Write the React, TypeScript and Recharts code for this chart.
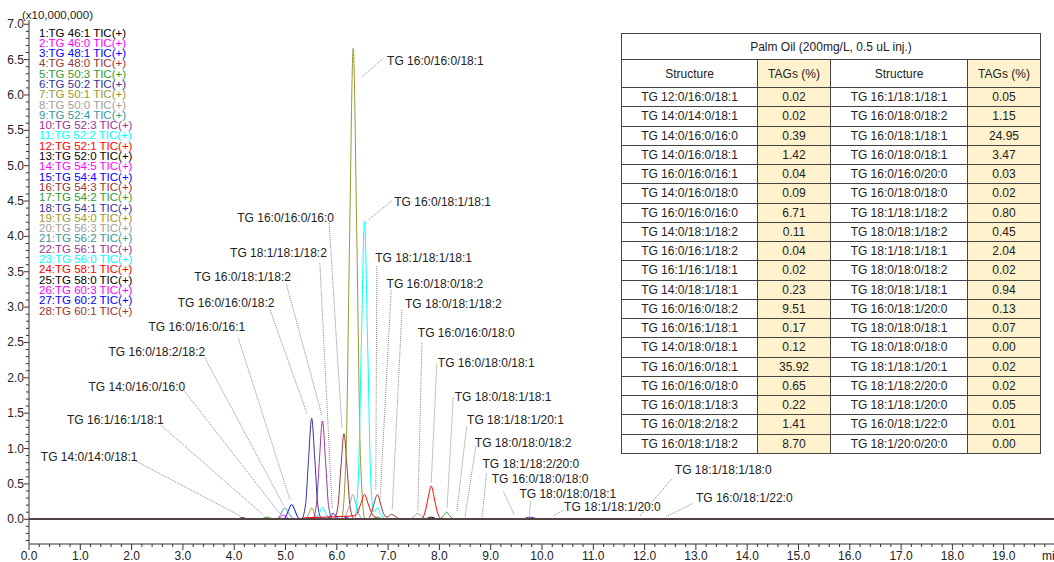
import React from 'react';
import { LineChart, Line, XAxis, YAxis, Legend, ReferenceLine, ReferenceDot } from 'recharts';

const FONT = '"Liberation Sans", Arial, Helvetica, sans-serif';

// series names (legend) and the palette the instrument software cycles through
const seriesNames = [
  'TG 46:1', 'TG 46:0', 'TG 48:1', 'TG 48:0', 'TG 50:3', 'TG 50:2', 'TG 50:1',
  'TG 50:0', 'TG 52:4', 'TG 52:3', 'TG 52:2', 'TG 52:1', 'TG 52:0', 'TG 54:5',
  'TG 54:4', 'TG 54:3', 'TG 54:2', 'TG 54:1', 'TG 54:0', 'TG 56:3', 'TG 56:2',
  'TG 56:1', 'TG 56:0', 'TG 58:1', 'TG 58:0', 'TG 60:3', 'TG 60:2', 'TG 60:1',
];
const palette = [
  '#000000', '#ff00ff', '#0000ff', '#993333', '#339933', '#333399',
  '#999933', '#a0a0a0', '#339999', '#993399', '#00ffff', '#ff0000',
];

// [retention time (min), intensity (x10,000,000)]
const trace01 = [[0, 0], [4.02, 0], [4.1, 0.012], [4.16, 0.022], [4.22, 0.012], [4.3, 0], [20, 0]];
const trace02 = [[0, 0], [4.82, 0], [4.9, 0.03], [4.96, 0.06], [5.02, 0.03], [5.1, 0], [20, 0]];
const trace03 = [[0, 0], [4.94, 0], [5.0, 0.03], [5.06, 0.13], [5.12, 0.21], [5.18, 0.13], [5.24, 0.03], [5.32, 0], [20, 0]];
const trace04 = [[0, 0], [5.94, 0], [6.02, 0.17], [6.08, 0.73], [6.14, 1.21], [6.2, 0.73], [6.26, 0.17], [6.34, 0], [20, 0]];
const trace05 = [[0, 0], [4.5, 0], [4.58, 0.018], [4.64, 0.03], [4.7, 0.018], [4.78, 0], [20, 0]];
const trace06 = [[0, 0], [5.31, 0], [5.39, 0.2], [5.45, 0.86], [5.51, 1.43], [5.57, 0.86], [5.63, 0.2], [5.71, 0], [20, 0]];
const trace07 = [[0, 0], [5.38, 0], [5.45, 0.07], [5.51, 0.16], [5.57, 0.07], [5.64, 0], [6.09, 0], [6.18, 0.9], [6.25, 4.0], [6.32, 6.66], [6.39, 4.0], [6.46, 0.9], [6.55, 0], [20, 0]];
const trace08 = [[0, 0], [6.12, 0], [6.2, 0.1], [6.26, 0.22], [6.31, 0.35], [6.37, 0.22], [6.43, 0.08], [6.5, 0], [7.42, 0], [7.5, 0.04], [7.58, 0.08], [7.66, 0.04], [7.74, 0], [20, 0]];
const trace09 = [[0, 0], [4.82, 0], [4.89, 0.05], [4.94, 0.12], [4.99, 0.16], [5.05, 0.1], [5.12, 0.03], [5.2, 0], [20, 0]];
const trace10 = [[0, 0], [5.52, 0], [5.6, 0.19], [5.66, 0.83], [5.72, 1.39], [5.78, 0.83], [5.84, 0.19], [5.92, 0], [20, 0]];
const trace11 = [[0, 0], [5.57, 0], [5.65, 0.07], [5.72, 0.17], [5.79, 0.07], [5.87, 0], [6.34, 0], [6.42, 0.59], [6.48, 2.52], [6.54, 4.21], [6.6, 2.52], [6.66, 0.6], [6.72, 0.1], [6.79, 0.16], [6.86, 0.07], [6.95, 0], [20, 0]];
const trace12 = [[0, 0], [5.1, 0], [5.4, 0.02], [5.8, 0.03], [6.1, 0.04], [6.36, 0.05], [6.46, 0.2], [6.54, 0.35], [6.62, 0.2], [6.72, 0.04], [6.9, 0], [7.64, 0], [7.72, 0.1], [7.78, 0.3], [7.84, 0.47], [7.9, 0.3], [7.96, 0.1], [8.05, 0], [20, 0]];
const trace13 = [[0, 0], [7.7, 0], [7.84, 0.03], [7.98, 0], [9.3, 0], [9.41, 0.012], [9.52, 0], [20, 0]];
const trace14 = [[0, 0], [20, 0]];
const trace15 = [[0, 0], [5.8, 0], [5.87, 0.04], [5.93, 0.08], [5.99, 0.04], [6.06, 0], [6.12, 0], [6.19, 0.03], [6.26, 0], [20, 0]];
const trace16 = [[0, 0], [6.6, 0], [6.67, 0.08], [6.73, 0.23], [6.79, 0.35], [6.85, 0.23], [6.91, 0.08], [6.98, 0.03], [7.07, 0.07], [7.16, 0.03], [7.26, 0], [20, 0]];
const trace17 = [[0, 0], [6.68, 0], [6.79, 0.03], [6.9, 0], [8.0, 0], [8.08, 0.05], [8.14, 0.1], [8.2, 0.05], [8.29, 0], [20, 0]];
const trace18 = [[0, 0], [9.6, 0], [9.7, 0.02], [9.77, 0.03], [9.84, 0.02], [9.94, 0], [20, 0]];
const trace19 = [[0, 0], [20, 0]];
const trace20 = [[0, 0], [8.4, 0], [8.5, 0.015], [8.6, 0], [20, 0]];
const trace21 = [[0, 0], [8.72, 0], [8.82, 0.012], [8.92, 0], [20, 0]];
const trace22 = [[0, 0], [10.1, 0], [10.2, 0.01], [10.3, 0], [20, 0]];
const trace23 = [[0, 0], [20, 0]];
const trace24 = [[0, 0], [12.3, 0], [12.43, 0.008], [12.55, 0], [20, 0]];
const trace25 = [[0, 0], [20, 0]];
const trace26 = [[0, 0], [20, 0]];
const trace27 = [[0, 0], [20, 0]];
const trace28 = [[0, 0], [11.8, 0], [11.9, 0.008], [12.0, 0], [20, 0]];

const traces = [
  trace01, trace02, trace03, trace04, trace05, trace06, trace07, trace08, trace09, trace10,
  trace11, trace12, trace13, trace14, trace15, trace16, trace17, trace18, trace19, trace20,
  trace21, trace22, trace23, trace24, trace25, trace26, trace27, trace28,
].map((pts) => pts.map(([t, v]) => ({ t, v })));

// table contents
const leftStructures = [
  'TG 12:0/16:0/18:1', 'TG 14:0/14:0/18:1', 'TG 14:0/16:0/16:0', 'TG 14:0/16:0/18:1',
  'TG 16:0/16:0/16:1', 'TG 14:0/16:0/18:0', 'TG 16:0/16:0/16:0', 'TG 14:0/18:1/18:2',
  'TG 16:0/16:1/18:2', 'TG 16:1/16:1/18:1', 'TG 14:0/18:1/18:1', 'TG 16:0/16:0/18:2',
  'TG 16:0/16:1/18:1', 'TG 14:0/18:0/18:1', 'TG 16:0/16:0/18:1', 'TG 16:0/16:0/18:0',
  'TG 16:0/18:1/18:3', 'TG 16:0/18:2/18:2', 'TG 16:0/18:1/18:2',
];
const leftPct = [0.02, 0.02, 0.39, 1.42, 0.04, 0.09, 6.71, 0.11, 0.04, 0.02, 0.23, 9.51, 0.17, 0.12, 35.92, 0.65, 0.22, 1.41, 8.7];
const rightStructures = [
  'TG 16:1/18:1/18:1', 'TG 16:0/18:0/18:2', 'TG 16:0/18:1/18:1', 'TG 16:0/18:0/18:1',
  'TG 16:0/16:0/20:0', 'TG 16:0/18:0/18:0', 'TG 18:1/18:1/18:2', 'TG 18:0/18:1/18:2',
  'TG 18:1/18:1/18:1', 'TG 18:0/18:0/18:2', 'TG 18:0/18:1/18:1', 'TG 16:0/18:1/20:0',
  'TG 18:0/18:0/18:1', 'TG 18:0/18:0/18:0', 'TG 18:1/18:1/20:1', 'TG 18:1/18:2/20:0',
  'TG 18:1/18:1/20:0', 'TG 16:0/18:1/22:0', 'TG 18:1/20:0/20:0',
];
const rightPct = [0.05, 1.15, 24.95, 3.47, 0.03, 0.02, 0.8, 0.45, 2.04, 0.02, 0.94, 0.13, 0.07, 0.0, 0.02, 0.02, 0.05, 0.01, 0.0];

// peak labels: text anchor, leader start and end, in chart units
const annotations = [
  { text: 'TG 16:0/16:0/18:1', at: [6.98, 6.48], from: [6.91, 6.52], to: [6.47, 6.24] },
  { text: 'TG 16:0/18:1/18:1', at: [7.12, 4.49], from: [7.07, 4.5], to: [6.61, 4.23] },
  { text: 'TG 16:0/16:0/16:0', at: [4.06, 4.26], from: [5.85, 4.19], to: [6.1, 1.29] },
  { text: 'TG 18:1/18:1/18:2', at: [3.92, 3.77], from: [5.67, 3.62], to: [5.91, 0.16] },
  { text: 'TG 16:0/18:1/18:2', at: [3.22, 3.43], from: [5.02, 3.32], to: [5.71, 1.47] },
  { text: 'TG 16:0/16:0/18:2', at: [2.9, 3.06], from: [4.7, 2.96], to: [5.42, 1.49] },
  { text: 'TG 16:0/16:0/16:1', at: [2.33, 2.72], from: [4.08, 2.56], to: [5.09, 0.27] },
  { text: 'TG 16:0/18:2/18:2', at: [1.55, 2.36], from: [3.43, 2.28], to: [4.96, 0.2] },
  { text: 'TG 14:0/16:0/16:0', at: [1.16, 1.87], from: [3.0, 1.84], to: [4.89, 0.08] },
  { text: 'TG 16:1/16:1/18:1', at: [0.74, 1.41], from: [2.57, 1.33], to: [4.57, 0.06] },
  { text: 'TG 14:0/14:0/18:1', at: [0.23, 0.88], from: [2.09, 0.82], to: [4.11, 0.05] },
  { text: 'TG 18:1/18:1/18:1', at: [6.75, 3.7], from: [6.78, 3.58], to: [6.76, 0.41] },
  { text: 'TG 16:0/18:0/18:2', at: [6.97, 3.33], from: [7.06, 3.24], to: [6.84, 0.23] },
  { text: 'TG 18:0/18:1/18:2', at: [7.33, 3.04], from: [7.27, 2.96], to: [7.08, 0.13] },
  { text: 'TG 16:0/16:0/18:0', at: [7.58, 2.64], from: [7.66, 2.49], to: [7.58, 0.13] },
  { text: 'TG 16:0/18:0/18:1', at: [7.97, 2.21], from: [7.95, 2.2], to: [7.84, 0.51] },
  { text: 'TG 18:0/18:1/18:1', at: [8.3, 1.73], from: [8.27, 1.72], to: [8.15, 0.16] },
  { text: 'TG 18:1/18:1/20:1', at: [8.54, 1.4], from: [8.53, 1.31], to: [8.34, 0.11] },
  { text: 'TG 18:0/18:0/18:2', at: [8.69, 1.08], from: [8.71, 1.03], to: [8.5, 0.04] },
  { text: 'TG 18:1/18:2/20:0', at: [8.84, 0.78], from: [8.92, 0.65], to: [8.83, 0.02] },
  { text: 'TG 16:0/18:0/18:0', at: [9.02, 0.57], from: [9.25, 0.39], to: [9.46, 0.06] },
  { text: 'TG 18:0/18:0/18:1', at: [9.56, 0.35], from: [9.78, 0.25], to: [9.75, 0.05] },
  { text: 'TG 18:1/18:1/20:0', at: [10.43, 0.18], from: [10.42, 0.13], to: [10.22, 0.05] },
  { text: 'TG 18:1/18:1/18:0', at: [12.59, 0.7], from: [12.53, 0.57], to: [11.9, 0.04] },
  { text: 'TG 16:0/18:1/22:0', at: [13.0, 0.3], from: [12.93, 0.22], to: [12.43, 0.04] },
];

const xTicks = Array.from({ length: 101 }, (_, i) => i / 5);
const yTicks = Array.from({ length: 74 }, (_, i) => (i - 3) / 10);

function XTick(props: any) {
  const { x, y, payload } = props;
  const v = payload.value;
  const major = Math.round(v * 5) % 5 === 0;
  const isUnit = v === 20;
  return (
    <g>
      <line x1={x} x2={x} y1={y} y2={y + (major ? 6 : 3)} stroke="#333" />
      {major && (
        <text
          x={isUnit ? x - 13 : x}
          y={y + 16}
          textAnchor={isUnit ? 'start' : 'middle'}
          fontSize={12}
          fill="#222"
          fontFamily={FONT}
        >
          {isUnit ? 'min' : v.toFixed(1)}
        </text>
      )}
    </g>
  );
}

function YTick(props: any) {
  const { x, y, payload } = props;
  const v = payload.value;
  const major = Math.round(v * 10) % 5 === 0;
  return (
    <g>
      <line x1={x - (major ? 5 : 3)} x2={x} y1={y} y2={y} stroke="#333" />
      {major && (
        <text x={x - 5} y={y + 4} textAnchor="end" fontSize={12} fill="#222" fontFamily={FONT}>
          {v.toFixed(1)}
        </text>
      )}
    </g>
  );
}

function LegendList({ payload }: any) {
  const items = [...(payload || [])].sort((a: any, b: any) => parseInt(a.value, 10) - parseInt(b.value, 10));
  return (
    <div style={{ fontFamily: FONT, fontSize: 11.5 }}>
      {items.map((p: any) => (
        <div key={p.value} style={{ color: p.color, lineHeight: '10.3px', whiteSpace: 'nowrap' }}>
          {p.value}
        </div>
      ))}
    </div>
  );
}

const cellBase: React.CSSProperties = {
  boxSizing: 'border-box',
  borderRight: '1px solid #444',
  borderBottom: '1px solid #444',
  display: 'flex',
  alignItems: 'center',
  justifyContent: 'center',
  fontSize: 12,
  color: '#222',
  whiteSpace: 'nowrap',
};
const pctBg = '#fff2cc';

function TagTable() {
  const cells: React.ReactNode[] = [];
  leftStructures.forEach((s, i) => {
    cells.push(<div key={'a' + i} style={cellBase}>{s}</div>);
    cells.push(<div key={'b' + i} style={{ ...cellBase, background: pctBg }}>{leftPct[i].toFixed(2)}</div>);
    cells.push(<div key={'c' + i} style={cellBase}>{rightStructures[i]}</div>);
    cells.push(<div key={'d' + i} style={{ ...cellBase, background: pctBg }}>{rightPct[i].toFixed(2)}</div>);
  });
  return (
    <div
      style={{
        position: 'absolute',
        left: 621,
        top: 33,
        display: 'grid',
        gridTemplateColumns: '136px 73px 137px 73px',
        gridTemplateRows: '26px 28px repeat(19, 19.25px)',
        borderTop: '1px solid #444',
        borderLeft: '1px solid #444',
        background: '#fff',
        fontFamily: FONT,
      }}
    >
      <div style={{ ...cellBase, gridColumn: '1 / 5' }}>Palm Oil (200mg/L, 0.5 uL inj.)</div>
      <div style={cellBase}>Structure</div>
      <div style={{ ...cellBase, background: pctBg }}>TAGs (%)</div>
      <div style={cellBase}>Structure</div>
      <div style={{ ...cellBase, background: pctBg }}>TAGs (%)</div>
      {cells}
    </div>
  );
}

export default function App() {
  return (
    <div
      style={{
        position: 'absolute',
        left: 0,
        top: 0,
        width: 1054,
        height: 562,
        overflow: 'hidden',
        background: '#fff',
        fontFamily: FONT,
      }}
    >
      <LineChart width={1080} height={562} margin={{ top: 20, right: 25, bottom: 0, left: 0 }}>
        <XAxis xAxisId="top" orientation="top" type="number" domain={[0, 20]} height={0} tick={false} tickLine={false} axisLine={{ stroke: '#333' }} />
        <XAxis
          dataKey="t"
          type="number"
          domain={[0, 20]}
          ticks={xTicks}
          interval={0}
          height={18}
          tickSize={0}
          tickMargin={0}
          tickLine={false}
          tick={XTick}
          axisLine={{ stroke: '#333' }}
          allowDataOverflow
        />
        <YAxis
          type="number"
          domain={[-0.35, 7.06]}
          ticks={yTicks}
          interval={0}
          width={29}
          tickSize={0}
          tickMargin={0}
          tickLine={false}
          tick={YTick}
          axisLine={{ stroke: '#333' }}
          allowDataOverflow
        />
        <Legend
          layout="vertical"
          align="center"
          verticalAlign="middle"
          wrapperStyle={{ left: 39, top: 27.5, width: 'auto', height: 'auto' }}
          content={LegendList}
        />
        {traces.map((data, i) => (
          <Line
            key={i}
            data={data}
            dataKey="v"
            name={`${i + 1}:${seriesNames[i]} TIC(+)`}
            type="monotone"
            stroke={palette[i % palette.length]}
            strokeWidth={1}
            dot={false}
            activeDot={false}
            isAnimationActive={false}
          />
        ))}
        <ReferenceLine y={0} stroke="#4a4a30" strokeWidth={1.5} />
        {annotations.map((a) => (
          <ReferenceLine
            key={'l' + a.text + a.at[0]}
            segment={[{ x: a.from[0], y: a.from[1] }, { x: a.to[0], y: a.to[1] }]}
            stroke="#888"
            strokeDasharray="1 1"
          />
        ))}
        {annotations.map((a) => (
          <ReferenceDot
            key={'t' + a.text + a.at[0]}
            x={a.at[0]}
            y={a.at[1]}
            r={0}
            fill="none"
            stroke="none"
            label={(p: any) => (
              <text x={p.viewBox.x} y={p.viewBox.y + 4} fontSize={12} fill="#222" fontFamily={FONT}>
                {a.text}
              </text>
            )}
          />
        ))}
      </LineChart>
      <div style={{ position: 'absolute', left: 22, top: 8, fontSize: 11.5, lineHeight: '14px', color: '#222' }}>
        (x10,000,000)
      </div>
      <TagTable />
    </div>
  );
}
